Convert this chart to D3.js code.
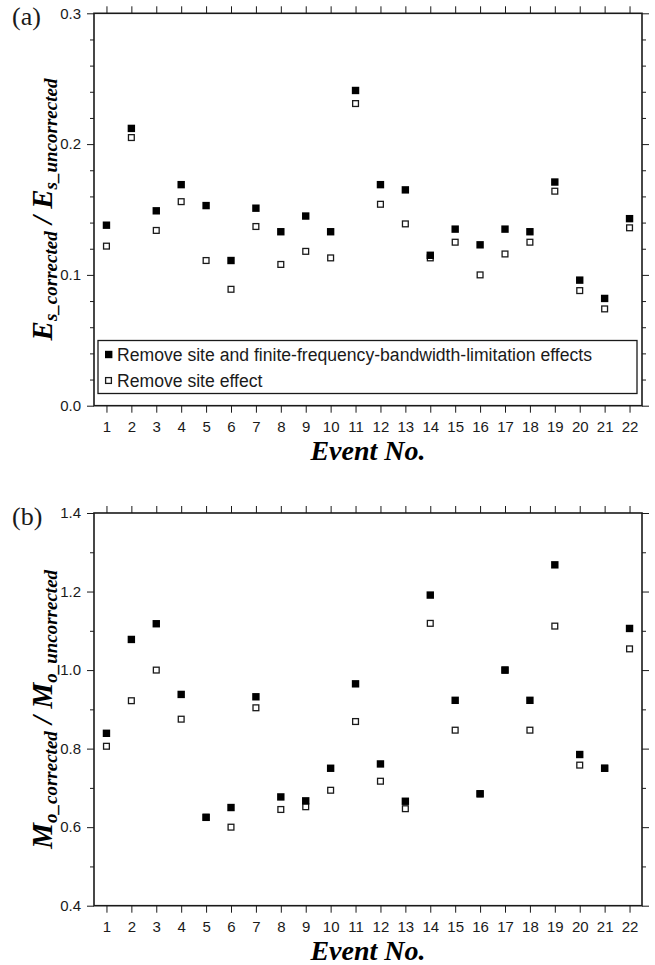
<!DOCTYPE html>
<html>
<head>
<meta charset="utf-8">
<script src="https://cdn.jsdelivr.net/npm/d3@7"></script>
<style>
  body { margin: 0; background: #fff; }
  svg { display: block; }
</style>
</head>
<body>
<svg id="fig" width="655" height="965"></svg>
<script>
// Event numbers on the horizontal axis
const events = [1, 2, 3, 4, 5, 6, 7, 8, 9, 10, 11, 12, 13, 14, 15, 16, 17, 18, 19, 20, 21, 22];

// (a) Radiated energy ratio, corrected / uncorrected
const esFull = [0.138, 0.212, 0.149, 0.169, 0.153, 0.111, 0.151, 0.133, 0.145, 0.133, 0.241,
                0.169, 0.165, 0.115, 0.135, 0.123, 0.135, 0.133, 0.171, 0.096, 0.082, 0.143];
const esSite = [0.122, 0.205, 0.134, 0.156, 0.111, 0.089, 0.137, 0.108, 0.118, 0.113, 0.231,
                0.154, 0.139, 0.113, 0.125, 0.100, 0.116, 0.125, 0.164, 0.088, 0.074, 0.136];

// (b) Seismic moment ratio, corrected / uncorrected
const moFull = [0.839, 1.078, 1.118, 0.938, 0.625, 0.650, 0.932, 0.677, 0.667, 0.750, 0.965,
                0.761, 0.666, 1.191, 0.923, 0.685, 1.000, 0.923, 1.268, 0.785, 0.750, 1.106];
const moSite = [0.806, 0.922, 1.000, 0.875, 0.625, 0.600, 0.904, 0.645, 0.652, 0.694, 0.869,
                0.717, 0.647, 1.119, 0.847, 0.685, 1.000, 0.847, 1.112, 0.758, 0.750, 1.054];

// Axis ticks
const esTicks = [0.0, 0.1, 0.2, 0.3];
const esMinor = [0.02, 0.04, 0.06, 0.08, 0.12, 0.14, 0.16, 0.18, 0.22, 0.24, 0.26, 0.28];
const moTicks = [0.4, 0.6, 0.8, 1.0, 1.2, 1.4];
const moMinor = [0.5, 0.7, 0.9, 1.1, 1.3];

const legendLabels = [
  "Remove site and finite-frequency-bandwidth-limitation effects",
  "Remove site effect"
];

const SANS = "'Liberation Sans', Arial, Helvetica, sans-serif";
const SERIF = "'Liberation Serif', 'Times New Roman', Times, serif";
const INK = "#1a1a1a";

const svg = d3.select("#fig");

const left = 94, right = 642;
const x = d3.scaleLinear().domain([0.5, 22.5]).range([left, right]);

function panel(opts) {
  const { top, bottom, domain, ticks, minor, fmt, full, site, tag, titleMain, titleSub, legend } = opts;
  const y = d3.scaleLinear().domain(domain).range([bottom, top]);
  const g = svg.append("g");

  const styleAxis = sel => {
    sel.select(".domain").remove();
    sel.selectAll(".tick line").attr("stroke", INK).attr("stroke-width", 1);
    sel.selectAll(".tick text").attr("fill", INK).style("font-family", SANS).style("font-size", "15px");
  };

  // left axis, major with labels, minor without
  g.append("g").attr("transform", `translate(${left},0)`)
    .call(d3.axisLeft(y).tickValues(ticks).tickFormat(fmt).tickSize(7).tickPadding(6))
    .call(styleAxis);
  g.append("g").attr("transform", `translate(${left},0)`)
    .call(d3.axisLeft(y).tickValues(minor).tickFormat("").tickSize(4))
    .call(styleAxis);
  // right axis
  g.append("g").attr("transform", `translate(${right},0)`)
    .call(d3.axisRight(y).tickValues(ticks).tickFormat("").tickSize(7))
    .call(styleAxis);
  g.append("g").attr("transform", `translate(${right},0)`)
    .call(d3.axisRight(y).tickValues(minor).tickFormat("").tickSize(4))
    .call(styleAxis);
  // bottom axis with event labels
  g.append("g").attr("transform", `translate(0,${bottom})`)
    .call(d3.axisBottom(x).tickValues(events).tickFormat(d3.format("d")).tickSize(7).tickPadding(9))
    .call(styleAxis);
  // top axis
  g.append("g").attr("transform", `translate(0,${top})`)
    .call(d3.axisTop(x).tickValues(events).tickFormat("").tickSize(7))
    .call(styleAxis);

  // frame
  g.append("rect")
    .attr("x", left).attr("y", top)
    .attr("width", right - left).attr("height", bottom - top)
    .attr("fill", "none").attr("stroke", INK).attr("stroke-width", 1.6);

  // open squares: site effect only
  const so = 7;
  g.append("g").selectAll("rect").data(events)
    .join("rect")
    .attr("x", (d, i) => x(d) - so / 2 + 0.6)
    .attr("y", (d, i) => y(site[i]) - so / 2 + 0.6)
    .attr("width", so - 1.2).attr("height", so - 1.2)
    .attr("fill", "#fff").attr("stroke", INK).attr("stroke-width", 1.3);

  // filled squares: site + finite-frequency-bandwidth correction
  const sf = 7.4;
  g.append("g").selectAll("rect").data(events)
    .join("rect")
    .attr("x", (d, i) => x(d) - sf / 2)
    .attr("y", (d, i) => y(full[i]) - sf / 2)
    .attr("width", sf).attr("height", sf)
    .attr("fill", "#000");

  // panel tag
  g.append("text")
    .attr("x", 12).attr("y", top + 12)
    .style("font-family", SERIF).style("font-size", "26px")
    .attr("fill", INK)
    .text(tag);

  // x-axis title
  g.append("text")
    .attr("x", (left + right) / 2).attr("y", bottom + 54)
    .attr("text-anchor", "middle")
    .style("font-family", SERIF).style("font-size", "28px")
    .style("font-weight", "bold").style("font-style", "italic")
    .attr("fill", "#000")
    .text("Event No.");

  // y-axis title with subscripts
  const yt = g.append("text")
    .attr("transform", `translate(52,${(top + bottom) / 2}) rotate(-90)`)
    .attr("text-anchor", "middle")
    .style("font-family", SERIF)
    .style("font-weight", "bold").style("font-style", "italic")
    .attr("fill", "#000");
  yt.append("tspan").style("font-size", "29px").text(titleMain);
  yt.append("tspan").style("font-size", "19px").attr("dy", 5).text(titleSub + "_corrected");
  yt.append("tspan").style("font-size", "29px").attr("dy", -5).text(" / " + titleMain);
  yt.append("tspan").style("font-size", "19px").attr("dy", 5).text(titleSub + "_uncorrected");

  if (legend) {
    const lg = g.append("g");
    lg.append("rect")
      .attr("x", 98).attr("y", 340.5).attr("width", 539).attr("height", 53)
      .attr("fill", "#fff").attr("stroke", INK).attr("stroke-width", 1.3);
    const rows = [354.5, 380.5];
    lg.append("rect").attr("x", 105).attr("y", rows[0] - 3.7).attr("width", 7.4).attr("height", 7.4).attr("fill", "#000");
    lg.append("rect").attr("x", 105.6).attr("y", rows[1] - 2.9).attr("width", 5.8).attr("height", 5.8)
      .attr("fill", "#fff").attr("stroke", INK).attr("stroke-width", 1.3);
    lg.selectAll("text.lab").data(legendLabels).join("text")
      .attr("class", "lab")
      .attr("x", 117).attr("y", (d, i) => rows[i] + 6)
      .style("font-family", SANS).style("font-size", "17.6px")
      .attr("fill", INK)
      .text(d => d);
  }
}

panel({
  top: 13.3, bottom: 405.7, domain: [0, 0.3],
  ticks: esTicks, minor: esMinor, fmt: d3.format(".1f"),
  full: esFull, site: esSite, tag: "(a)",
  titleMain: "E", titleSub: "s", legend: true
});

panel({
  top: 513, bottom: 905.7, domain: [0.4, 1.4],
  ticks: moTicks, minor: moMinor, fmt: d3.format(".1f"),
  full: moFull, site: moSite, tag: "(b)",
  titleMain: "M", titleSub: "o", legend: false
});
</script>
</body>
</html>
